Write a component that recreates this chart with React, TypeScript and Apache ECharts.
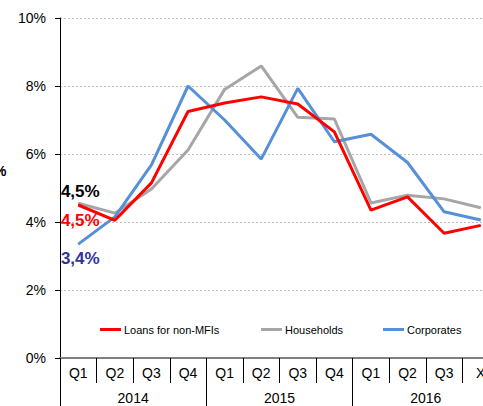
import React, { useEffect, useRef } from "react";
import * as echarts from "echarts";

const quarters = ["Q1", "Q2", "Q3", "Q4", "Q1", "Q2", "Q3", "Q4", "Q1", "Q2", "Q3", "X"];
const years = ["2014", "2015", "2016"];
const loans = [4.5, 4.05, 5.15, 7.25, 7.5, 7.68, 7.47, 6.65, 4.35, 4.74, 3.67, 3.9];
const households = [4.55, 4.26, 4.97, 6.12, 7.9, 8.59, 7.08, 7.03, 4.56, 4.79, 4.68, 4.42];
const corporates = [3.35, 4.15, 5.68, 8.0, 7.0, 5.85, 7.93, 6.36, 6.58, 5.75, 4.3, 4.06];
const seriesNames = ["Loans for non-MFIs", "Households", "Corporates"];
const firstLabels = ["4,5%", "4,5%", "3,4%"];

const FONT = "Liberation Sans, Arial, sans-serif";

export default function App() {
  const ref = useRef<HTMLDivElement>(null);
  useEffect(() => {
    if (!ref.current) return;
    const chart = echarts.init(ref.current, undefined, { renderer: "svg" });
    const colors = ["#ff0000", "#a6a6a6", "#5590d8"];
    const labelColors = ["#ff0000", "#000000", "#333399"];
    const labelPos = ["bottom", "top", "bottom"];
    const labelDist = [6, 3, 5];
    const datas = [loans, households, corporates];
    const series = datas.map((d, i) => ({
      name: seriesNames[i],
      type: "line",
      xAxisIndex: 0,
      yAxisIndex: 0,
      symbol: "circle",
      symbolSize: 1,
      showSymbol: true,
      z: i === 0 ? 4 : i === 1 ? 2 : 3,
      lineStyle: { color: colors[i], width: 3 },
      itemStyle: { color: colors[i] },
      data: d.map((v, j) =>
        j === 0
          ? {
              value: v,
              label: {
                show: true,
                position: labelPos[i],
                distance: labelDist[i],
                offset: [2, 0],
                formatter: firstLabels[i],
                color: labelColors[i],
                fontWeight: "bold",
                fontSize: 17,
                fontFamily: FONT,
              },
            }
          : v
      ),
    }));
    const legendLefts = [100, 261, 383];
    chart.setOption({
      animation: false,
      textStyle: { fontFamily: FONT },
      grid: { left: 60, right: 21, top: 18, bottom: 48, containLabel: false },
      legend: seriesNames.map((n, i) => ({
        data: [{ name: n, icon: "rect" }],
        left: legendLefts[i],
        top: 324,
        itemWidth: 21,
        itemHeight: 3,
        padding: 0,
        selectedMode: false,
        textStyle: { fontSize: 11, color: "#000", fontFamily: FONT, padding: [0, 0, 0, -2] },
      })),
      xAxis: [
        {
          type: "category",
          data: quarters,
          position: "bottom",
          boundaryGap: true,
          axisLine: { show: true, lineStyle: { color: "#808080", width: 2 } },
          axisTick: { show: true, length: 25, interval: 0, lineStyle: { color: "#000", width: 1 } },
          axisLabel: { interval: 0, margin: 8, fontSize: 14, color: "#000", fontFamily: FONT },
          splitLine: { show: false },
        },
        {
          type: "category",
          data: years,
          position: "bottom",
          boundaryGap: true,
          axisLine: { show: false },
          axisTick: { show: true, length: 50, interval: 0, lineStyle: { color: "#000", width: 1 } },
          axisLabel: { interval: 0, margin: 33, fontSize: 14, color: "#000", fontFamily: FONT },
          splitLine: { show: false },
        },
      ],
      yAxis: {
        type: "value",
        min: 0,
        max: 10,
        interval: 2,
        axisLine: { show: true, lineStyle: { color: "#000", width: 1 } },
        axisTick: { show: true, length: 5, lineStyle: { color: "#000" } },
        axisLabel: { formatter: "{value}%", fontSize: 14, color: "#000", margin: 14, fontFamily: FONT },
        splitLine: { show: true, lineStyle: { color: "#bfbfbf", type: [2, 2], width: 1 } },
      },
      graphic: [
        {
          type: "text",
          left: -6,
          top: 164,
          style: { text: "%", fontSize: 14, fontWeight: "bold", fill: "#000", fontFamily: FONT },
        },
      ],
      series,
    });
    return () => chart.dispose();
  }, []);
  return (
    <div
      style={{
        position: "fixed",
        left: 0,
        top: 0,
        width: 483,
        height: 406,
        overflow: "hidden",
        background: "#fff",
      }}
    >
      <div ref={ref} style={{ width: 520, height: 406 }} />
    </div>
  );
}
